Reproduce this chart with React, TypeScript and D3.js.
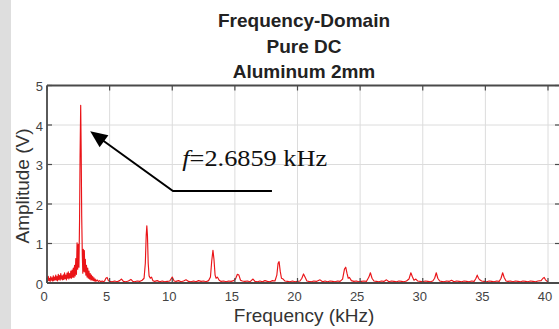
import React from "react";
import * as d3 from "d3";

// ---------- data ----------
const titleLines = ["Frequency-Domain", "Pure DC", "Aluminum 2mm"];
const xTicks = [0, 5, 10, 15, 20, 25, 30, 35, 40];
const yTicks = [0, 1, 2, 3, 4, 5];
const xLabel = "Frequency (kHz)";
const yLabel = "Amplitude (V)";

// spectrum, [kHz, V]
const spectrumLow: [number, number][] = [
  [0.0, 0.14], [0.05, 0.05], [0.1, 0.17], [0.15, 0.06], [0.2, 0.12], [0.25, 0.04], [0.3, 0.16], [0.35, 0.07],
  [0.4, 0.13], [0.45, 0.05], [0.5, 0.18], [0.55, 0.06], [0.6, 0.15], [0.65, 0.08], [0.7, 0.2], [0.75, 0.07],
  [0.8, 0.16], [0.85, 0.05], [0.9, 0.22], [0.95, 0.09], [1.0, 0.19], [1.05, 0.07], [1.1, 0.24], [1.15, 0.1],
  [1.2, 0.18], [1.25, 0.08], [1.3, 0.21], [1.35, 0.09], [1.4, 0.26], [1.45, 0.11], [1.5, 0.2], [1.55, 0.08],
  [1.6, 0.25], [1.65, 0.12], [1.7, 0.28], [1.75, 0.1], [1.8, 0.24], [1.85, 0.13], [1.9, 0.3], [1.95, 0.12],
  [2.0, 0.33], [2.05, 0.15], [2.1, 0.38], [2.15, 0.14], [2.2, 0.45], [2.25, 0.18], [2.3, 0.62], [2.35, 0.22],
  [2.4, 1.02], [2.45, 0.35], [2.5, 0.98], [2.55, 0.4],
];
const spectrumMain: [number, number][] = [
  [2.6, 1.6], [2.64, 3.2], [2.69, 4.5], [2.73, 3.3], [2.77, 1.7], [2.82, 0.7], [2.86, 0.25], [2.9, 0.85],
  [2.94, 0.3], [2.98, 0.82], [3.02, 0.28], [3.06, 0.6], [3.1, 0.2], [3.15, 0.45], [3.2, 0.15], [3.25, 0.38],
  [3.3, 0.12], [3.35, 0.3], [3.4, 0.1], [3.45, 0.24], [3.5, 0.08], [3.55, 0.2], [3.6, 0.07], [3.65, 0.16],
  [3.7, 0.06], [3.75, 0.13], [3.8, 0.05], [3.85, 0.1], [3.9, 0.04], [4.0, 0.08], [4.1, 0.04], [4.2, 0.06],
  [4.3, 0.03], [4.4, 0.05], [4.5, 0.03], [4.6, 0.05], [4.7, 0.12], [4.8, 0.14], [4.9, 0.06],
];
const spectrumHigh: [number, number][] = [
  [5.0, 0.04], [5.2, 0.03], [5.4, 0.05], [5.6, 0.03], [5.8, 0.06], [5.95, 0.1], [6.1, 0.04], [6.3, 0.03],
  [6.5, 0.05], [6.7, 0.09], [6.85, 0.04], [7.0, 0.03], [7.2, 0.05], [7.4, 0.04], [7.6, 0.07], [7.75, 0.12],
  [7.85, 0.5], [7.92, 1.2], [7.97, 1.45], [8.02, 1.2], [8.08, 0.5], [8.15, 0.18], [8.25, 0.12], [8.35, 0.15],
  [8.45, 0.06], [8.6, 0.04], [8.8, 0.06], [9.0, 0.03], [9.2, 0.05], [9.4, 0.03], [9.6, 0.04], [9.8, 0.05],
  [10.0, 0.15], [10.15, 0.05], [10.3, 0.04], [10.5, 0.06], [10.7, 0.03], [10.9, 0.05], [11.1, 0.08], [11.3, 0.04],
  [11.5, 0.03], [11.7, 0.05], [11.9, 0.03], [12.1, 0.06], [12.3, 0.04], [12.5, 0.05], [12.7, 0.03], [12.9, 0.06],
  [13.05, 0.15], [13.15, 0.55], [13.25, 0.83], [13.33, 0.6], [13.42, 0.2], [13.5, 0.12], [13.6, 0.15], [13.75, 0.07],
  [13.9, 0.04], [14.1, 0.05], [14.3, 0.03], [14.5, 0.05], [14.7, 0.04], [14.9, 0.06], [15.05, 0.1], [15.2, 0.22],
  [15.32, 0.2], [15.45, 0.07], [15.6, 0.05], [15.8, 0.04], [16.0, 0.05], [16.2, 0.03], [16.45, 0.1], [16.6, 0.04],
  [16.8, 0.03], [17.0, 0.05], [17.2, 0.03], [17.4, 0.06], [17.6, 0.04], [17.8, 0.03], [18.0, 0.06], [18.2, 0.05],
  [18.35, 0.2], [18.45, 0.5], [18.53, 0.54], [18.62, 0.3], [18.72, 0.12], [18.85, 0.1], [19.0, 0.05], [19.2, 0.04],
  [19.4, 0.03], [19.6, 0.05], [19.8, 0.03], [20.0, 0.04], [20.2, 0.05], [20.35, 0.12], [20.48, 0.23], [20.6, 0.15],
  [20.75, 0.05], [20.9, 0.04], [21.1, 0.03], [21.3, 0.05], [21.5, 0.04], [21.8, 0.08], [22.0, 0.03], [22.2, 0.05],
  [22.4, 0.03], [22.6, 0.05], [22.8, 0.04], [23.0, 0.03], [23.2, 0.05], [23.4, 0.04], [23.6, 0.1], [23.75, 0.35],
  [23.85, 0.4], [23.95, 0.25], [24.05, 0.12], [24.15, 0.14], [24.3, 0.06], [24.5, 0.04], [24.7, 0.05], [24.9, 0.03],
  [25.1, 0.04], [25.3, 0.05], [25.5, 0.04], [25.7, 0.15], [25.82, 0.26], [25.95, 0.12], [26.1, 0.05], [26.3, 0.04],
  [26.5, 0.03], [26.7, 0.05], [26.9, 0.04], [27.1, 0.08], [27.3, 0.03], [27.5, 0.05], [27.7, 0.04], [27.9, 0.03],
  [28.1, 0.05], [28.3, 0.04], [28.5, 0.03], [28.7, 0.05], [28.9, 0.1], [29.05, 0.26], [29.18, 0.15], [29.3, 0.07],
  [29.45, 0.1], [29.6, 0.05], [29.8, 0.04], [30.0, 0.03], [30.2, 0.05], [30.4, 0.04], [30.6, 0.03], [30.8, 0.05],
  [30.95, 0.12], [31.08, 0.26], [31.2, 0.12], [31.35, 0.05], [31.5, 0.04], [31.7, 0.03], [31.9, 0.05], [32.1, 0.04],
  [32.3, 0.07], [32.5, 0.03], [32.7, 0.05], [32.9, 0.04], [33.1, 0.03], [33.3, 0.05], [33.5, 0.04], [33.7, 0.03],
  [33.9, 0.05], [34.1, 0.04], [34.25, 0.12], [34.35, 0.2], [34.45, 0.12], [34.55, 0.08], [34.7, 0.05], [34.9, 0.04],
  [35.1, 0.03], [35.3, 0.05], [35.5, 0.04], [35.7, 0.03], [35.9, 0.05], [36.1, 0.04], [36.25, 0.12], [36.38, 0.26],
  [36.5, 0.14], [36.65, 0.05], [36.8, 0.04], [37.0, 0.05], [37.2, 0.03], [37.4, 0.05], [37.6, 0.04], [37.8, 0.03],
  [38.0, 0.05], [38.2, 0.04], [38.4, 0.03], [38.6, 0.05], [38.8, 0.04], [39.0, 0.03], [39.2, 0.05], [39.45, 0.06],
  [39.6, 0.12], [39.7, 0.14], [39.8, 0.08], [39.9, 0.05], [40.0, 0.03],
];

// annotation: arrow path in data coordinates [kHz, V]
const annotationText = "=2.6859 kHz";
const annotationPos: [number, number] = [10.8, 2.97];
const arrowPath: [number, number][] = [
  [17.96, 2.33],
  [10.06, 2.33],
  [3.45, 3.84],
];

// ---------- layout ----------
const W = 559;
const H = 329;
const left = 47;
const right = 560;
const top = 85.5;
const bottom = 283;

export default function App() {
  const x = d3.scaleLinear().domain([0, 40]).range([left, 548]);
  const y = d3.scaleLinear().domain([0, 5]).range([bottom, top]);

  const data = [...spectrumLow, ...spectrumMain, ...spectrumHigh];
  const line = d3
    .line<[number, number]>()
    .x((d) => x(d[0]))
    .y((d) => y(d[1]));

  const arrowPts = arrowPath.map(([f, a]) => [x(f), y(a)] as [number, number]);
  const [tx, ty] = arrowPts[2];
  const [bx, by] = arrowPts[1];
  const ang = Math.atan2(ty - by, tx - bx);
  const hl = 17;
  const hw = 7.5;
  const baseX = tx - hl * Math.cos(ang);
  const baseY = ty - hl * Math.sin(ang);
  const head: [number, number][] = [
    [tx, ty],
    [baseX + hw * Math.sin(ang), baseY - hw * Math.cos(ang)],
    [baseX - hw * Math.sin(ang), baseY + hw * Math.cos(ang)],
  ];
  const lineEnd: [number, number] = [tx - (hl - 3) * Math.cos(ang), ty - (hl - 3) * Math.sin(ang)];
  const shaft = d3.line<[number, number]>()([arrowPts[0], arrowPts[1], lineEnd]);

  const font = "'Liberation Sans', Arial, Helvetica, sans-serif";
  const axisColor = "#4a4a4a";

  return (
    <svg
      width={W}
      height={H}
      style={{ position: "absolute", left: 0, top: 0, display: "block", background: "#fff" }}
    >
      <rect x={0} y={0} width={W} height={H} fill="#ffffff" />
      <rect x={0} y={0} width={11} height={H} fill="#dedede" />

      {/* grid */}
      {xTicks.map((t) => (
        <line key={"gx" + t} x1={x(t)} x2={x(t)} y1={top} y2={bottom} stroke="#dcdcdc" strokeWidth={1} />
      ))}
      {yTicks.map((t) => (
        <line key={"gy" + t} x1={left} x2={right} y1={y(t)} y2={y(t)} stroke="#dcdcdc" strokeWidth={1} />
      ))}

      {/* spectrum */}
      <path d={line(data) || ""} fill="none" stroke="#ea1418" strokeWidth={1.15} strokeLinejoin="round" />

      {/* frame */}
      <line x1={left} x2={right} y1={top} y2={top} stroke={axisColor} strokeWidth={1.8} />
      <line x1={left} x2={left} y1={top} y2={bottom} stroke={axisColor} strokeWidth={1.8} />
      <line x1={left} x2={right} y1={bottom} y2={bottom} stroke={axisColor} strokeWidth={1.8} />
      {xTicks.map((t) => (
        <g key={"tx" + t}>
          <line x1={x(t)} x2={x(t)} y1={top} y2={top + 5} stroke={axisColor} strokeWidth={1.2} />
          <line x1={x(t)} x2={x(t)} y1={bottom} y2={bottom - 5} stroke={axisColor} strokeWidth={1.2} />
        </g>
      ))}
      {yTicks.map((t) => (
        <g key={"ty" + t}>
          <line x1={left} x2={left + 5} y1={y(t)} y2={y(t)} stroke={axisColor} strokeWidth={1.2} />
          <line x1={right - 5} x2={right} y1={y(t)} y2={y(t)} stroke={axisColor} strokeWidth={1.2} />
        </g>
      ))}

      {/* tick labels */}
      {xTicks.map((t) => (
        <text key={"lx" + t} x={x(t) - 3} y={301} textAnchor="middle" fontFamily={font} fontSize={13} fill="#444">
          {t}
        </text>
      ))}
      {yTicks.map((t) => (
        <text
          key={"ly" + t}
          x={43}
          y={y(t) + 1}
          textAnchor="end"
          dominantBaseline="central"
          fontFamily={font}
          fontSize={13}
          fill="#444"
        >
          {t}
        </text>
      ))}

      {/* axis labels */}
      <text x={304} y={322} textAnchor="middle" fontFamily={font} fontSize={19} fill="#333">
        {xLabel}
      </text>
      <text
        transform={`translate(29, 186) rotate(-90)`}
        textAnchor="middle"
        fontFamily={font}
        fontSize={19}
        fill="#333"
      >
        {yLabel}
      </text>

      {/* title */}
      {titleLines.map((s, i) => (
        <text
          key={s}
          x={304}
          y={27 + i * 25.5}
          textAnchor="middle"
          fontFamily={font}
          fontWeight="bold"
          fontSize={19}
          fill="#222"
        >
          {s}
        </text>
      ))}

      {/* annotation */}
      <path d={shaft || ""} fill="none" stroke="#000" strokeWidth={2} />
      <path d={(d3.line()(head) || "") + "Z"} fill="#000" />
      <text
        transform={`translate(${x(annotationPos[0])}, ${y(annotationPos[1])}) scale(1.12,1)`}
        fontFamily="'Liberation Serif', 'Times New Roman', serif"
        fontSize={23.5}
        fill="#111"
      >
        <tspan fontStyle="italic">f</tspan>
        <tspan>{annotationText}</tspan>
      </text>
    </svg>
  );
}
